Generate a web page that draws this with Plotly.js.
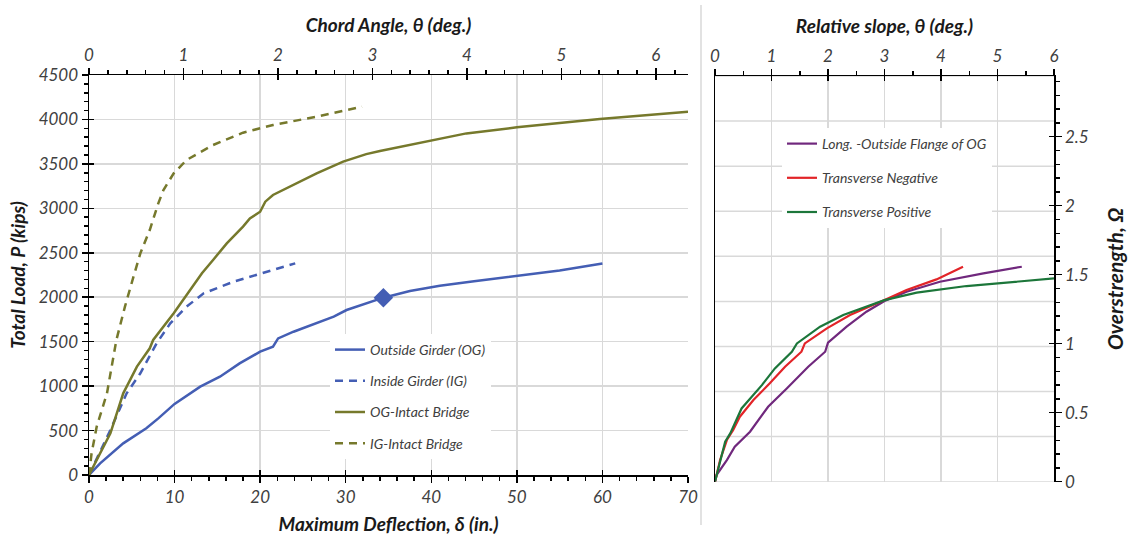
<!DOCTYPE html>
<html><head><meta charset="utf-8">
<script src="https://cdn.plot.ly/plotly-3.0.1.min.js"></script>
<style>html,body{margin:0;padding:0;background:#fff}#chart{width:1132px;height:539px}</style>
</head><body><div id="chart"></div>
<script>
// ---- Left chart data: Maximum deflection (in.) vs Total load (kips)
const ogX = [0, 1.3, 4.0, 6.7, 8.1, 10.0, 13.0, 15.3, 17.6, 20.0, 21.5, 22.1, 23.9, 28.6, 30.1, 34.4, 37.5, 41, 45, 50, 55, 60];
const ogY = [0, 131, 356, 525, 637, 800, 994, 1106, 1256, 1387, 1444, 1537, 1612, 1781, 1856, 1995, 2070, 2130, 2180, 2240, 2300, 2380];
const igX = [0, 2.5, 4.4, 6.0, 7.9, 9.5, 11.4, 13.4, 16.9, 20.8, 24.1];
const igY = [0, 506, 919, 1144, 1481, 1706, 1894, 2044, 2175, 2287, 2381];
const ogIntX = [0, 1.3, 2.5, 4.0, 5.6, 7.1, 7.5, 9.9, 11.8, 13.2, 14.5, 16.1, 18.0, 18.8, 20.0, 20.6, 21.5, 23.9, 26.6, 29.7, 32.4, 34.0, 36.3, 39.85, 44.1, 50, 55, 59.7, 70];
const ogIntY = [0, 244, 469, 919, 1219, 1425, 1519, 1819, 2081, 2269, 2419, 2606, 2794, 2887, 2962, 3075, 3150, 3262, 3394, 3525, 3610, 3645, 3690, 3757, 3843, 3911, 3960, 4004, 4087];
const igIntX = [0, 0.3, 0.9, 2.1, 3.2, 4.2, 5.2, 6.0, 7.1, 8.1, 8.7, 9.9, 11.4, 14.5, 18.0, 21.5, 26.6, 31.9];
const igIntY = [0, 244, 544, 919, 1519, 1894, 2231, 2494, 2756, 3056, 3206, 3394, 3544, 3712, 3851, 3937, 4031, 4144];
const markX = [34.4];
const markY = [1995];

// ---- Right chart data: Relative slope (deg.) vs Overstrength
const longX = [0, 0.03, 0.21, 0.35, 0.62, 0.94, 1.27, 1.65, 1.95, 2.0, 2.33, 2.68, 3.0, 3.39, 3.98, 4.75, 5.43];
const longY = [0, 0.05, 0.157, 0.254, 0.362, 0.543, 0.676, 0.833, 0.942, 1.007, 1.123, 1.232, 1.309, 1.377, 1.449, 1.51, 1.558];
const negX = [0, 0.09, 0.21, 0.32, 0.44, 0.68, 0.97, 1.24, 1.53, 1.59, 1.98, 2.39, 3.0, 3.39, 3.92, 4.39];
const negY = [0, 0.157, 0.302, 0.374, 0.471, 0.592, 0.713, 0.833, 0.942, 1.002, 1.111, 1.208, 1.316, 1.389, 1.466, 1.558];
const posX = [0, 0.18, 0.27, 0.47, 0.83, 1.06, 1.36, 1.45, 1.86, 2.27, 3.0, 3.57, 4.45, 6.0];
const posY = [0, 0.29, 0.35, 0.531, 0.7, 0.821, 0.942, 1.002, 1.123, 1.208, 1.316, 1.37, 1.418, 1.473];

const names = ['Outside Girder (OG)', 'Inside Girder (IG)', 'OG-Intact Bridge', 'IG-Intact Bridge'];
const names2 = ['Long. -Outside Flange of OG', 'Transverse Negative', 'Transverse Positive'];
// background grid of the right panel: 9 equal divisions of its height
const rightGridDivisions = 9;
const rightYMax = 2.94;
const rightXMax = 6;

const BLUE = 'rgb(68,94,180)', OLIVE = 'rgb(118,121,44)';
const PURPLE = 'rgb(112,40,125)', RED = 'rgb(226,36,40)', GREEN = 'rgb(28,118,58)';
const FONT = 'Lato, "Open Sans", sans-serif';
const tickFont = {family: FONT, size: 17, color: '#404040', style: 'italic'};
const titleFont = {family: FONT, size: 19, color: '#1a1a1a', style: 'italic', weight: 'bold'};
const DASH = '8px,6px';
const CLEAR = 'rgba(0,0,0,0)';
const GRID = '#d9d9d9';

const dummy = (xa, ya) => ({x: [null], y: [null], mode: 'lines', xaxis: xa, yaxis: ya, showlegend: false, hoverinfo: 'skip'});

// horizontal background grid of the right panel, as a plain line trace drawn first (beneath the curves)
const gx = [], gy = [];
for (let k = 0; k <= rightGridDivisions; k++) {
  const v = rightYMax * k / rightGridDivisions;
  gx.push(0, rightXMax, null); gy.push(v, v, null);
}
const gridTrace = {x: gx, y: gy, mode: 'lines', line: {color: GRID, width: 1.5}, xaxis: 'x3', yaxis: 'y4',
  showlegend: false, hoverinfo: 'skip', cliponaxis: false};

const traces = [
  dummy('x3', 'y3'),
  gridTrace,
  {x: ogX, y: ogY, name: names[0], mode: 'lines', line: {color: BLUE, width: 2.5}, xaxis: 'x', yaxis: 'y', legend: 'legend', legendgroup: 'a'},
  {x: igX, y: igY, name: names[1], mode: 'lines', line: {color: BLUE, width: 2.5, dash: DASH}, xaxis: 'x', yaxis: 'y', legend: 'legend', legendgroup: 'b'},
  {x: ogIntX, y: ogIntY, name: names[2], mode: 'lines', line: {color: OLIVE, width: 2.5}, xaxis: 'x', yaxis: 'y', legend: 'legend', legendgroup: 'c'},
  {x: igIntX, y: igIntY, name: names[3], mode: 'lines', line: {color: OLIVE, width: 2.5, dash: DASH}, xaxis: 'x', yaxis: 'y', legend: 'legend', legendgroup: 'd'},
  {x: markX, y: markY, mode: 'markers', marker: {symbol: 'diamond', size: 15, color: BLUE}, showlegend: false, xaxis: 'x', yaxis: 'y'},
  {x: longX, y: longY, name: names2[0], mode: 'lines', line: {color: PURPLE, width: 2.2}, xaxis: 'x3', yaxis: 'y4', legend: 'legend2', legendgroup: 'e'},
  {x: negX, y: negY, name: names2[1], mode: 'lines', line: {color: RED, width: 2.2}, xaxis: 'x3', yaxis: 'y4', legend: 'legend2', legendgroup: 'f'},
  {x: posX, y: posY, name: names2[2], mode: 'lines', line: {color: GREEN, width: 2.2}, xaxis: 'x3', yaxis: 'y4', legend: 'legend2', legendgroup: 'g'},
  dummy('x2', 'y'),
  dummy('x4', 'y'), dummy('x5', 'y'), dummy('x', 'y5'), dummy('x6', 'y3'), dummy('x3', 'y6')
];

const W = 1132, H = 539;
const px = v => v / W, py = v => 1 - v / H;
const LX = [px(89), px(688)], LY = [py(475), py(75)];
const RX = [px(715), px(1054)], RY = [py(481.7), py(76)];

const tickStyle = {ticks: 'outside', ticklen: 6, tickcolor: '#000', tickwidth: 1.5};
const lineStyle = {showline: true, linecolor: '#000', linewidth: 1.5, zeroline: false};
// inside-tick companion axes so that major ticks cross the axis lines
const inner = (o) => Object.assign({ticks: 'inside', ticklen: 5, tickcolor: '#000', tickwidth: 1.5, showticklabels: false,
  showgrid: false, showline: false, zeroline: false}, o);

const layout = {
  width: W, height: H,
  margin: {l: 0, r: 0, t: 0, b: 0},
  paper_bgcolor: '#fff', plot_bgcolor: CLEAR,
  showlegend: true,
  xaxis: Object.assign({domain: LX, range: [0, 70], dtick: 10, showgrid: true, gridcolor: GRID, gridwidth: 1.5,
    minor: {dtick: 2, ticks: 'outside', ticklen: 4, tickcolor: '#000', showgrid: false},
    tickfont: tickFont, anchor: 'y',
    title: {text: 'Maximum Deflection, δ (in.)', font: titleFont, standoff: 12}}, tickStyle, lineStyle),
  xaxis2: Object.assign({domain: LX, range: [0, 6.34], dtick: 1, overlaying: 'x', side: 'top', anchor: 'y', showgrid: false,
    minor: {dtick: 0.2, ticks: 'outside', ticklen: 4, tickcolor: '#000', showgrid: false},
    tickfont: tickFont,
    title: {text: 'Chord Angle, θ (deg.)', font: titleFont, standoff: 6}}, tickStyle, lineStyle),
  yaxis: Object.assign({domain: LY, range: [0, 4500], dtick: 500, showgrid: true, gridcolor: GRID, gridwidth: 1.5,
    minor: {dtick: 100, ticks: 'outside', ticklen: 4, tickcolor: '#000', showgrid: false},
    tickfont: tickFont, anchor: 'x',
    title: {text: 'Total Load, P (kips)', font: titleFont, standoff: 8}}, tickStyle, lineStyle),
  xaxis3: Object.assign({domain: RX, range: [0, rightXMax], dtick: 1, side: 'top', anchor: 'y3', showgrid: true, gridcolor: GRID, gridwidth: 1.5,
    minor: {dtick: 0.5, ticks: 'outside', ticklen: 4, tickcolor: '#000', showgrid: false},
    tickfont: tickFont,
    title: {text: 'Relative slope, θ (deg.)', font: titleFont, standoff: 6}}, tickStyle, lineStyle),
  yaxis3: {domain: RY, range: [0, rightYMax], anchor: 'x3', side: 'left', showgrid: false,
    showline: true, linecolor: '#000', linewidth: 1.5, zeroline: false, ticks: '', showticklabels: false},
  yaxis4: Object.assign({domain: RY, range: [0, rightYMax], dtick: 0.5, overlaying: 'y3', side: 'right', anchor: 'x3', showgrid: false,
    minor: {dtick: 0.1, ticks: 'outside', ticklen: 4, tickcolor: '#000', showgrid: false},
    tickfont: tickFont,
    title: {text: 'Overstrength, Ω', font: Object.assign({}, titleFont, {size: 21}), standoff: 20}}, tickStyle, lineStyle),
  xaxis4: inner({domain: LX, range: [0, 70], dtick: 10, overlaying: 'x', side: 'bottom', anchor: 'y'}),
  xaxis5: inner({domain: LX, range: [0, 6.34], dtick: 1, overlaying: 'x', side: 'top', anchor: 'y'}),
  yaxis5: inner({domain: LY, range: [0, 4500], dtick: 500, overlaying: 'y', side: 'left', anchor: 'x'}),
  xaxis6: inner({domain: RX, range: [0, rightXMax], dtick: 1, overlaying: 'x3', side: 'top', anchor: 'y3'}),
  yaxis6: inner({domain: RY, range: [0, rightYMax], dtick: 0.5, overlaying: 'y3', side: 'right', anchor: 'x3'}),
  legend: {x: px(330), y: py(334), xanchor: 'left', yanchor: 'top', bgcolor: '#fff', borderwidth: 0,
    font: {family: FONT, size: 14, color: '#404040', style: 'italic'}, traceorder: 'grouped', tracegroupgap: 10,
    itemwidth: 30},
  legend2: {x: px(782), y: py(128), xanchor: 'left', yanchor: 'top', bgcolor: '#fff', borderwidth: 0,
    font: {family: FONT, size: 14, color: '#404040', style: 'italic'}, traceorder: 'grouped', tracegroupgap: 13,
    itemwidth: 30},
  shapes: [{type: 'line', xref: 'paper', yref: 'paper', x0: px(701), x1: px(701), y0: py(5), y1: py(525),
    line: {color: '#d9d9d9', width: 1.5}}]
};

Plotly.newPlot('chart', traces, layout, {displayModeBar: false, staticPlot: true});
</script></body></html>
